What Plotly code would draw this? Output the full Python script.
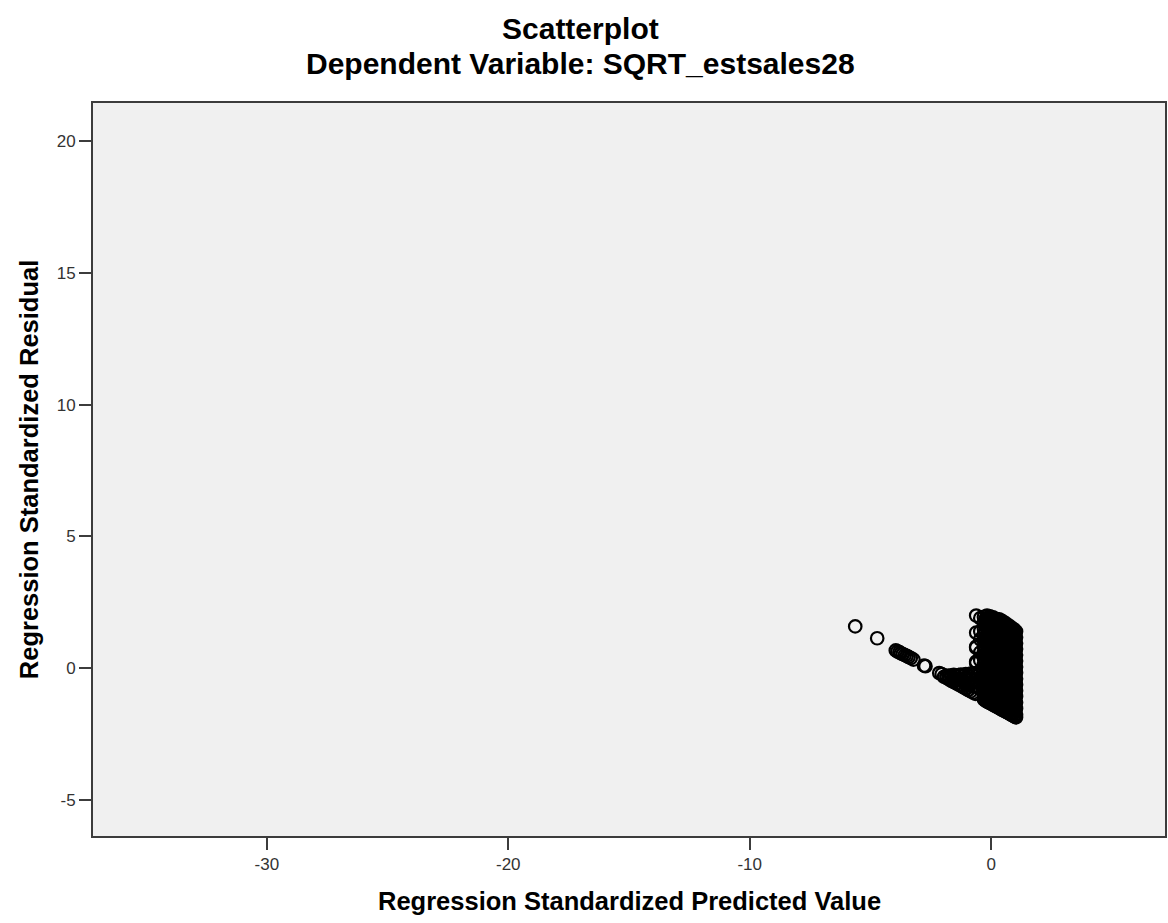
import plotly.graph_objects as go

# Isolated cases on the far-left tail (standardized predicted, standardized residual)
tail_pred = [-5.63, -4.72, -3.95, -3.88, -3.80, -3.74, -3.66, -3.58, -3.50, -3.42,
             -3.33, -3.22, -2.78, -2.72, -2.15, -2.05]
tail_resid = [1.59, 1.14, 0.68, 0.64, 0.61, 0.57, 0.54, 0.50, 0.47, 0.43,
              0.39, 0.33, 0.10, 0.08, -0.18, -0.22]

# Lower-left arm of the cloud
arm_pred = [-1.95,
            -1.85, -1.85,
            -1.75, -1.75,
            -1.65, -1.65,
            -1.55, -1.55, -1.55,
            -1.45, -1.45, -1.45,
            -1.35, -1.35, -1.35,
            -1.25, -1.25, -1.25,
            -1.15, -1.15, -1.15,
            -1.05, -1.05, -1.05, -1.05,
            -0.95, -0.95, -0.95, -0.95,
            -0.85, -0.85, -0.85, -0.85,
            -0.75, -0.75, -0.75, -0.75,
            -0.65, -0.65, -0.65, -0.65]
arm_resid = [-0.32,
             -0.28, -0.36,
             -0.30, -0.42,
             -0.27, -0.47,
             -0.25, -0.38, -0.52,
             -0.30, -0.44, -0.57,
             -0.26, -0.40, -0.62,
             -0.24, -0.45, -0.66,
             -0.28, -0.50, -0.72,
             -0.22, -0.40, -0.58, -0.77,
             -0.26, -0.46, -0.64, -0.82,
             -0.20, -0.40, -0.60, -0.87,
             -0.25, -0.48, -0.70, -0.92,
             -0.18, -0.42, -0.66, -0.97]

# Main body of the cloud, grouped by predicted value
body_pred = [-0.62, -0.45, -0.30, -0.17, -0.05, 0.08, 0.20, 0.33, 0.45, 0.58,
             0.70, 0.82, 0.94, 1.03,
             -0.24, -0.11, 0.02, 0.14, 0.27, 0.39, 0.52, 0.64, 0.76, 0.88, 0.99]
body_resid = [
    [2.00, 1.35, 0.82, 0.78, 0.25, 0.20],
    [1.90, 1.40, 1.10, 0.60, 0.30, -0.10, -0.40, -0.80],
    [1.95, 1.72, 1.50, 1.28, 1.05, 0.83, 0.60, 0.38, 0.15, -0.07, -0.30, -0.52, -0.75, -0.97, -1.18],
    [2.00, 1.78, 1.55, 1.33, 1.10, 0.88, 0.66, 0.43, 0.20, -0.02, -0.25, -0.47, -0.70, -0.92, -1.14, -1.26],
    [1.97, 1.75, 1.52, 1.30, 1.07, 0.85, 0.62, 0.40, 0.18, -0.05, -0.27, -0.50, -0.72, -0.95, -1.17, -1.32],
    [1.93, 1.70, 1.48, 1.25, 1.03, 0.80, 0.58, 0.35, 0.13, -0.10, -0.32, -0.55, -0.77, -1.00, -1.22, -1.38],
    [1.88, 1.66, 1.44, 1.21, 0.99, 0.76, 0.54, 0.31, 0.09, -0.14, -0.36, -0.59, -0.81, -1.04, -1.26, -1.44],
    [1.86, 1.63, 1.41, 1.18, 0.96, 0.73, 0.51, 0.28, 0.06, -0.17, -0.39, -0.62, -0.84, -1.07, -1.29, -1.50],
    [1.80, 1.57, 1.35, 1.12, 0.90, 0.67, 0.45, 0.22, 0.00, -0.23, -0.45, -0.68, -0.90, -1.13, -1.35, -1.57],
    [1.72, 1.50, 1.27, 1.05, 0.82, 0.60, 0.37, 0.15, -0.08, -0.30, -0.53, -0.75, -0.98, -1.20, -1.43, -1.63],
    [1.64, 1.42, 1.19, 0.97, 0.74, 0.52, 0.29, 0.07, -0.16, -0.38, -0.61, -0.83, -1.06, -1.28, -1.50, -1.69],
    [1.56, 1.34, 1.11, 0.89, 0.66, 0.44, 0.21, -0.01, -0.24, -0.46, -0.69, -0.91, -1.14, -1.36, -1.58, -1.75],
    [1.48, 1.25, 1.03, 0.80, 0.58, 0.35, 0.13, -0.10, -0.32, -0.55, -0.77, -1.00, -1.22, -1.45, -1.67, -1.81],
    [1.40, 1.18, 0.95, 0.73, 0.50, 0.28, 0.05, -0.17, -0.40, -0.62, -0.85, -1.07, -1.30, -1.52, -1.74, -1.86],
    [1.86, 1.63, 1.41, 1.18, 0.96, 0.73, 0.51, 0.28, 0.06, -0.17, -0.39, -0.62, -0.84, -1.07, -1.22],
    [1.90, 1.67, 1.45, 1.22, 1.00, 0.77, 0.55, 0.32, 0.10, -0.13, -0.35, -0.58, -0.80, -1.03, -1.22, -1.29],
    [1.85, 1.62, 1.40, 1.17, 0.95, 0.72, 0.50, 0.27, 0.05, -0.18, -0.40, -0.63, -0.85, -1.08, -1.28, -1.35],
    [1.80, 1.58, 1.35, 1.13, 0.90, 0.68, 0.45, 0.23, 0.00, -0.22, -0.45, -0.67, -0.90, -1.12, -1.33, -1.41],
    [1.77, 1.55, 1.32, 1.10, 0.87, 0.65, 0.42, 0.20, -0.03, -0.25, -0.48, -0.70, -0.93, -1.15, -1.37, -1.48],
    [1.74, 1.52, 1.29, 1.07, 0.84, 0.62, 0.39, 0.17, -0.06, -0.28, -0.51, -0.73, -0.96, -1.18, -1.40, -1.54],
    [1.66, 1.44, 1.21, 0.99, 0.76, 0.54, 0.31, 0.09, -0.14, -0.36, -0.59, -0.81, -1.04, -1.26, -1.48, -1.60],
    [1.58, 1.36, 1.13, 0.91, 0.68, 0.46, 0.23, 0.01, -0.22, -0.44, -0.67, -0.89, -1.12, -1.34, -1.56, -1.66],
    [1.50, 1.28, 1.05, 0.83, 0.60, 0.38, 0.15, -0.07, -0.30, -0.52, -0.75, -0.97, -1.20, -1.42, -1.62, -1.72],
    [1.42, 1.20, 0.97, 0.75, 0.52, 0.30, 0.07, -0.15, -0.38, -0.60, -0.83, -1.05, -1.28, -1.50, -1.70, -1.78],
    [1.34, 1.12, 0.89, 0.67, 0.44, 0.22, -0.01, -0.23, -0.46, -0.68, -0.91, -1.13, -1.36, -1.58, -1.78, -1.84],
]

x_ticks = [-30, -20, -10, 0]
y_ticks = [-5, 0, 5, 10, 15, 20]

xs = list(tail_pred) + list(arm_pred)
ys = list(tail_resid) + list(arm_resid)
for px, col in zip(body_pred, body_resid):
    xs += [px] * len(col)
    ys += col

FONT = "Liberation Sans, Arial, sans-serif"
AXIS_COLOR = "#3c3c3c"

fig = go.Figure()
fig.add_trace(go.Scatter(
    x=xs, y=ys, mode="markers",
    marker=dict(symbol="circle-open", size=12.5, color="black",
                line=dict(width=2.2, color="black")),
    showlegend=False, hoverinfo="skip",
))

axis_common = dict(
    showgrid=False, zeroline=False, showline=True, mirror=True,
    linecolor=AXIS_COLOR, linewidth=2, ticks="outside", tickwidth=2,
    tickcolor=AXIS_COLOR, tickfont=dict(family=FONT, size=17, color="#333333"),
)

fig.update_layout(
    width=1168, height=923,
    margin=dict(l=93, r=1, t=103, b=87),
    paper_bgcolor="white", plot_bgcolor="#f0f0f0",
    font=dict(family=FONT),
    xaxis=dict(range=[-37.2, 7.2], tickvals=x_ticks,
               ticktext=[str(v) for v in x_ticks], ticklen=12, **axis_common),
    yaxis=dict(range=[-6.36, 21.44], tickvals=y_ticks,
               ticktext=[str(v) for v in y_ticks], ticklen=12, **axis_common),
    annotations=[
        dict(text="<b>Scatterplot</b>", xref="paper", yref="paper",
             x=0.455, y=1.102, xanchor="center", yanchor="middle",
             showarrow=False, font=dict(family=FONT, size=30, color="black")),
        dict(text="<b>Dependent Variable: SQRT_estsales28</b>", xref="paper", yref="paper",
             x=0.455, y=1.054, xanchor="center", yanchor="middle",
             showarrow=False, font=dict(family=FONT, size=30, color="black")),
        dict(text="<b>Regression Standardized Predicted Value</b>", xref="paper", yref="paper",
             x=0.5, y=-0.088, xanchor="center", yanchor="middle",
             showarrow=False, font=dict(family=FONT, size=25.5, color="black")),
        dict(text="<b>Regression Standardized Residual</b>", xref="paper", yref="paper",
             x=-0.06, y=0.5, xanchor="center", yanchor="middle", textangle=-90,
             showarrow=False, font=dict(family=FONT, size=25.5, color="black")),
    ],
)

fig.write_html("out.html")
